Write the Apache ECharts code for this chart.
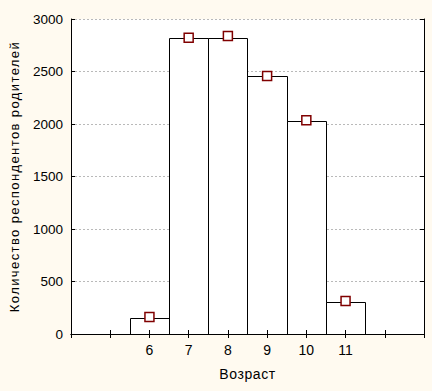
<!DOCTYPE html>
<html>
<head>
<meta charset="utf-8">
<script src="https://cdn.jsdelivr.net/npm/echarts@6/dist/echarts.min.js"></script>
<style>
html,body{margin:0;padding:0;background:#fffaf0;}
#chart{width:432px;height:391px;}
</style>
</head>
<body>
<div id="chart"></div>
<script>
var ages = [6, 7, 8, 9, 10, 11];
var barValues = [150, 2815, 2822, 2460, 2028, 302];
var markerValues = [162, 2822, 2838, 2457, 2035, 314];
var yTicks = [0, 500, 1000, 1500, 2000, 2500, 3000];
var yName = 'Количество респондентов родителей';
var xName = 'Возраст';

var font = 'Liberation Sans, Arial, sans-serif';
var chart = echarts.init(document.getElementById('chart'), null, {renderer: 'svg'});

var barData = ages.map(function (a, i) { return [a, barValues[i]]; });
var markerData = ages.map(function (a, i) { return [a, markerValues[i]]; });

var lineStyle = {color: '#000', width: 1};
var tick = {show: true, inside: true, length: 4, lineStyle: {color: '#000', width: 1}};

chart.setOption({
  animation: false,
  backgroundColor: '#fffaf0',
  grid: {left: 71, right: 8, top: 19, bottom: 57, show: true, backgroundColor: '#ffffff', borderWidth: 0,
    containLabel: false, outerBoundsMode: 'none'},
  xAxis: [{
    type: 'value', min: 4, max: 13, interval: 1, z: 10,
    name: xName, nameLocation: 'middle', nameGap: 33,
    nameTextStyle: {fontFamily: font, fontSize: 14, color: '#000'},
    axisLine: {show: true, lineStyle: lineStyle},
    axisTick: tick,
    axisLabel: {show: true, margin: 9, fontFamily: font, fontSize: 14, color: '#000',
      formatter: function (v) { return ages.indexOf(v) >= 0 ? String(v) : ''; }},
    splitLine: {show: false}
  }, {
    type: 'value', min: 4, max: 13, interval: 1, position: 'top', z: 10,
    axisLine: {show: true, lineStyle: lineStyle},
    axisTick: tick,
    axisLabel: {show: false}, splitLine: {show: false}
  }],
  yAxis: [{
    type: 'value', min: 0, max: 3000, interval: 500, z: 10,
    name: yName, nameLocation: 'middle', nameGap: 50,
    nameTextStyle: {fontFamily: font, fontSize: 13, color: '#000'},
    axisLine: {show: true, lineStyle: lineStyle},
    axisTick: tick,
    axisLabel: {margin: 8, fontFamily: font, fontSize: 13.5, color: '#000',
      formatter: function (v) { return yTicks.indexOf(v) >= 0 ? String(v) : ''; }},
    splitLine: {show: false}
  }, {
    type: 'value', min: 0, max: 3000, interval: 500, position: 'right', z: 10,
    axisLine: {show: true, lineStyle: lineStyle},
    axisTick: tick,
    axisLabel: {show: false}, splitLine: {show: false}
  }, {
    type: 'value', min: 0, max: 3000, interval: 500, position: 'left', z: 0,
    axisLine: {show: false}, axisTick: {show: false}, axisLabel: {show: false},
    splitLine: {show: true, lineStyle: {color: '#b9b9b9', type: [2, 2], width: 1}}
  }],
  series: [{
    type: 'custom',
    data: barData,
    renderItem: function (params, api) {
      var x = api.value(0), y = api.value(1);
      var p1 = api.coord([x - 0.5, y]);
      var p2 = api.coord([x + 0.5, 0]);
      var l = Math.round(p1[0]) + 0.5, r = Math.round(p2[0]) + 0.5;
      var t = Math.round(p1[1]) + 0.5, b = Math.round(p2[1]) + 0.5;
      return {
        type: 'rect',
        shape: {x: l, y: t, width: r - l, height: b - t},
        style: {fill: '#ffffff', stroke: '#000000', lineWidth: 1}
      };
    },
    z: 2
  }, {
    type: 'scatter',
    data: markerData,
    symbol: 'rect',
    symbolSize: 9,
    itemStyle: {color: '#ffffff', borderColor: '#800000', borderWidth: 1.5, opacity: 1},
    z: 3
  }]
});

function spaceText() {
  var texts = document.querySelectorAll('#chart text');
  for (var i = 0; i < texts.length; i++) {
    if (texts[i].textContent === yName) {
      texts[i].style.letterSpacing = '1.4px';
    } else if (texts[i].textContent === xName) {
      texts[i].style.letterSpacing = '0.6px';
    }
  }
}
chart.on('finished', spaceText);
spaceText();
</script>
</body>
</html>
